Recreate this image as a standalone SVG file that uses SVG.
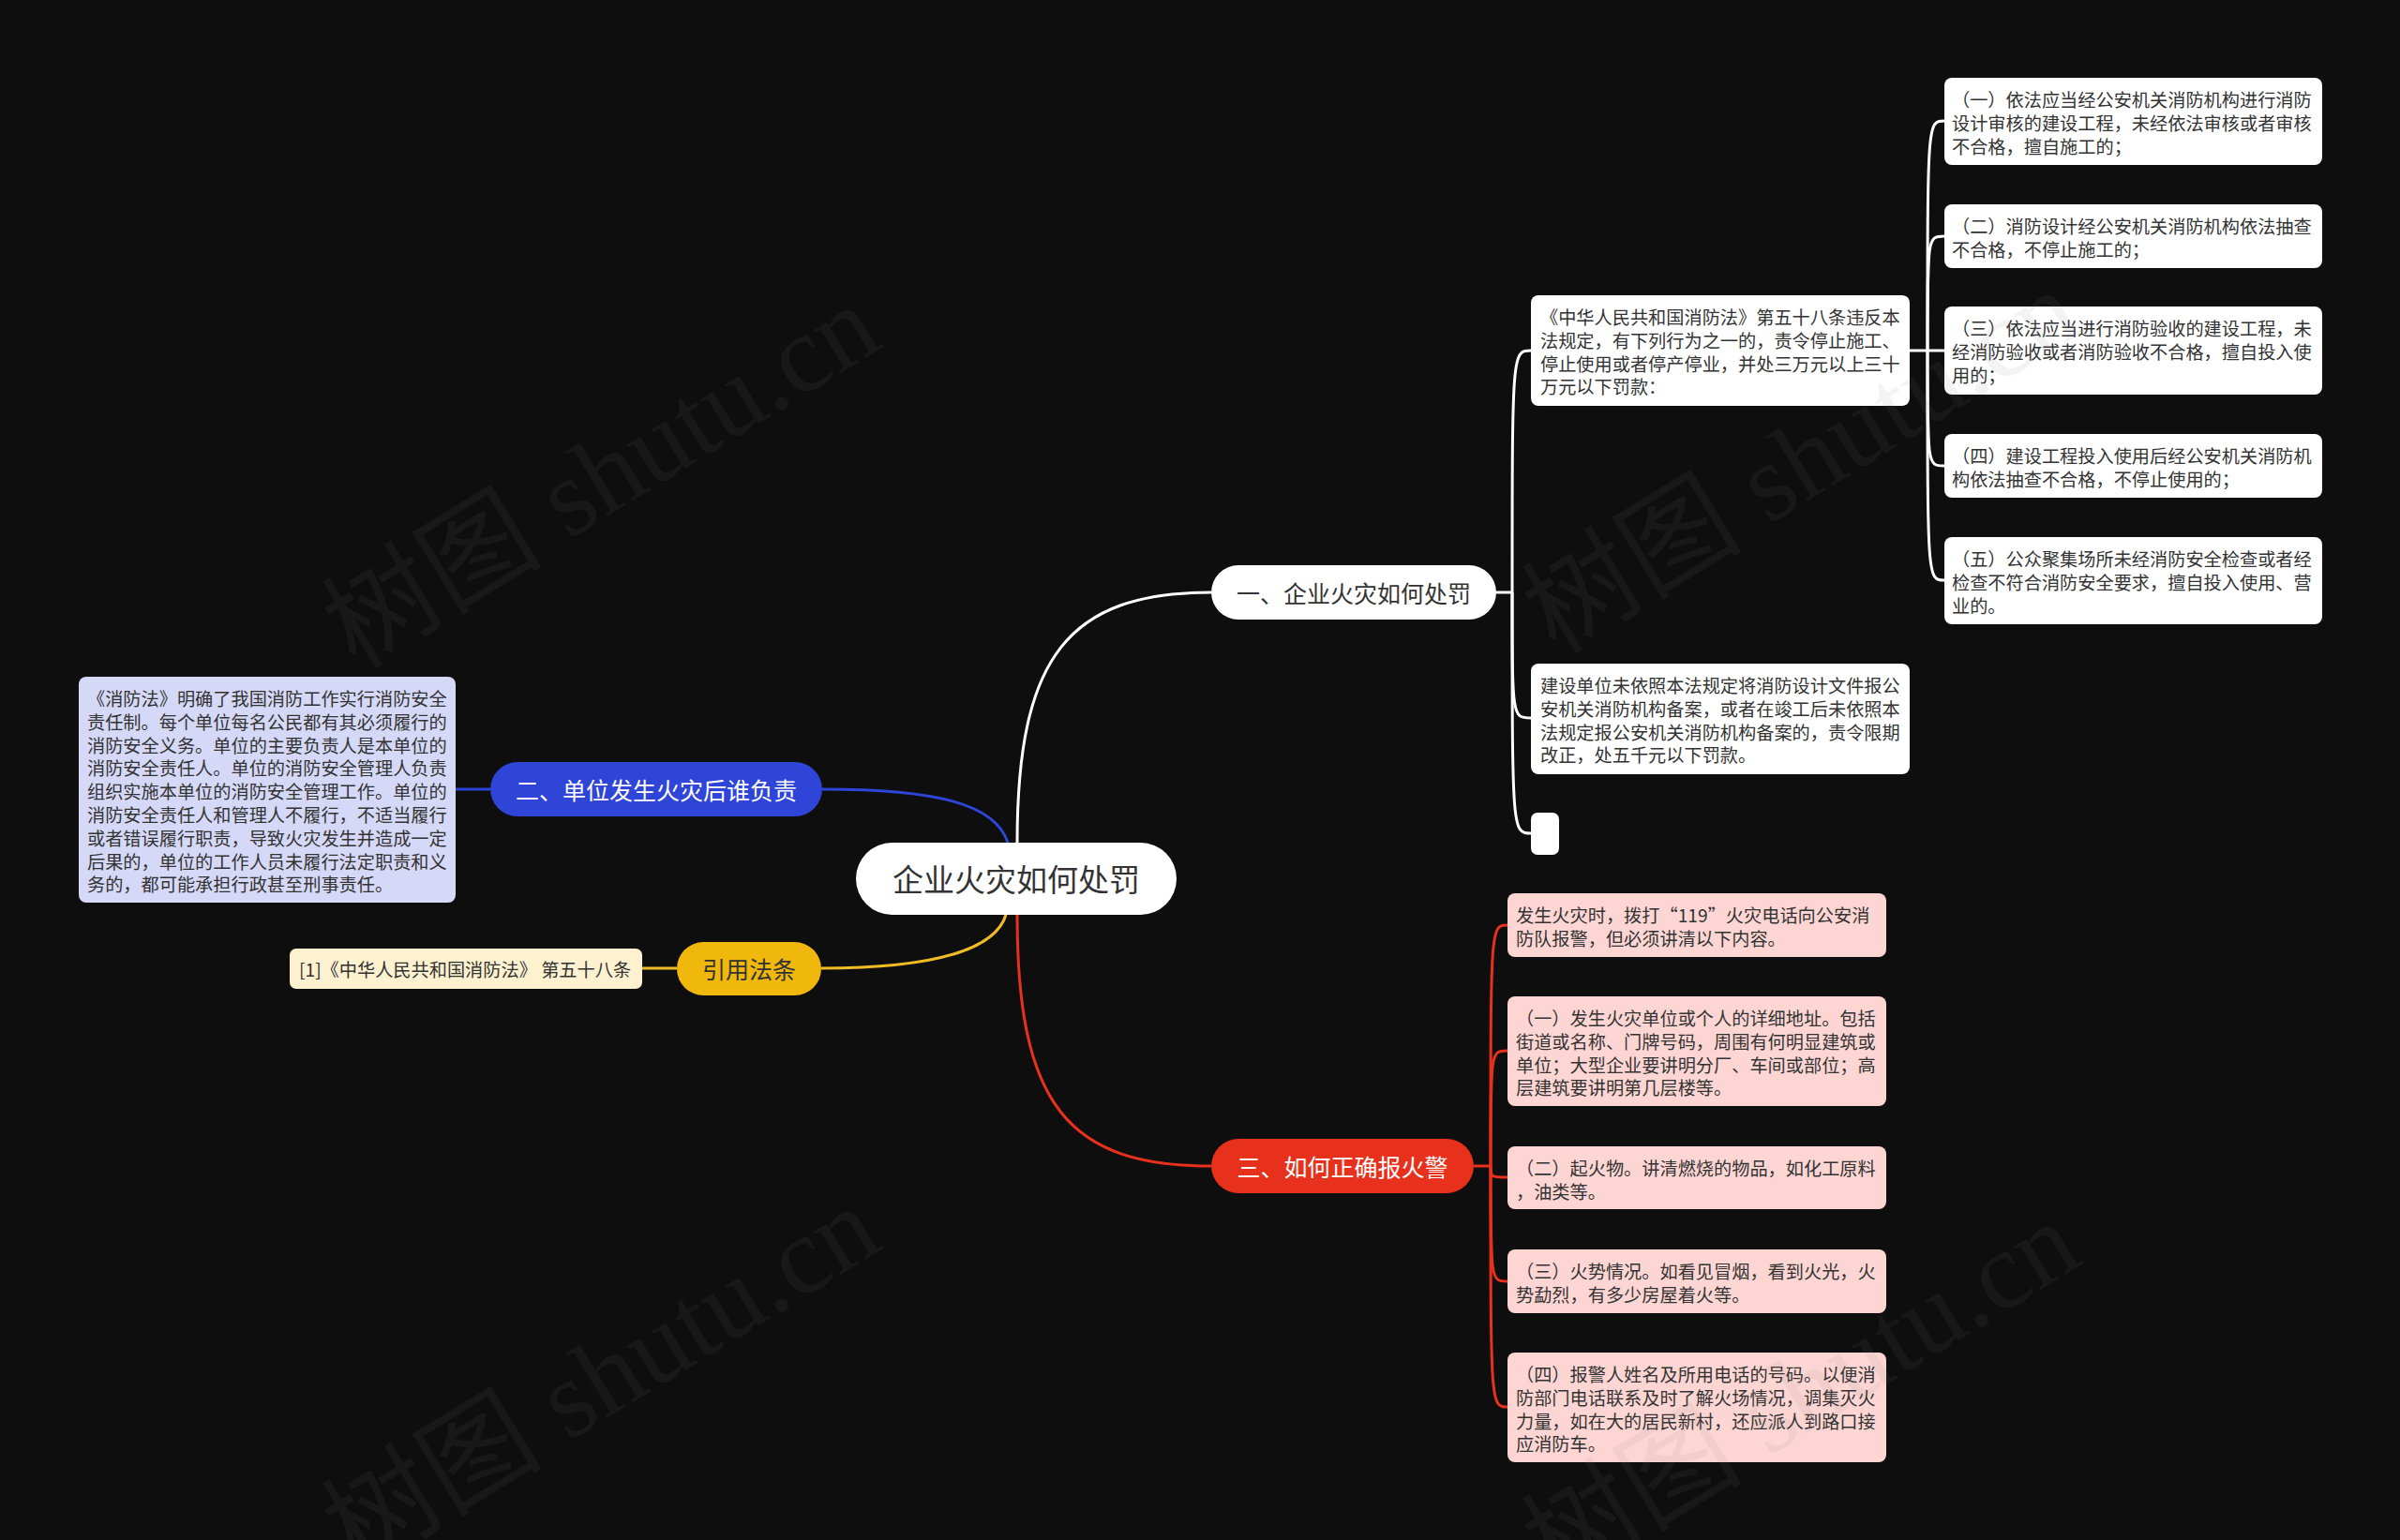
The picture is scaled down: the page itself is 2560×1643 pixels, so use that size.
<svg xmlns="http://www.w3.org/2000/svg" width="2560" height="1643" viewBox="0 0 2560 1643">
<style>
text{font-family:"Noto Sans CJK SC","Noto Sans",sans-serif;}
.t{font-size:19.2px;fill:#333333;dominant-baseline:central;}
.pill{font-size:25px;dominant-baseline:central;text-anchor:middle;}
.wbox{fill:#ffffff;}
.pbox{fill:#fdd6d3;}
.wl{fill:none;stroke:#ffffff;stroke-width:3;}
.rl{fill:none;stroke:#e8311d;stroke-width:3;}
.bl{fill:none;stroke:#2e45d8;stroke-width:3;}
.yl{fill:none;stroke:#f0bc25;stroke-width:3;}
.wm{font-family:"Liberation Serif","Noto Sans CJK SC",serif;font-size:118px;fill:#808080;opacity:0.09;}
</style>
<rect x="0" y="0" width="2560" height="1643" fill="#0e0e0e"/>

<g id="connectors">
  <path class="wl" d="M1085 899 C1085 700 1140 632 1292 632"/>
  <path class="bl" d="M877 842 C1000 842 1062 858 1075 899"/>
  <path class="yl" d="M876 1033 C1000 1033 1062 1012 1073 976"/>
  <path class="rl" d="M1085 976 C1085 1180 1140 1244 1292 1244"/>
  <path class="bl" d="M486 842 H523"/>
  <path class="yl" d="M685 1033 H722"/>
  <path class="wl" d="M1596 632 H1613"/>
  <path class="wl" d="M1613 632 C1613 374 1613 374 1633 374"/>
  <path class="wl" d="M1613 632 C1613 766 1613 766 1633 766"/>
  <path class="wl" d="M1613 632 C1613 889 1613 889 1633 889"/>
  <path class="wl" d="M2037 374 H2056"/>
  <path class="wl" d="M2056 374 C2056 129 2056 129 2074 129"/>
  <path class="wl" d="M2056 374 C2056 252 2056 252 2074 252"/>
  <path class="wl" d="M2056 374 H2074"/>
  <path class="wl" d="M2056 374 C2056 497 2056 497 2074 497"/>
  <path class="wl" d="M2056 374 C2056 619 2056 619 2074 619"/>
  <path class="rl" d="M1572 1244 H1590"/>
  <path class="rl" d="M1590 1244 C1590 987 1590 987 1608 987"/>
  <path class="rl" d="M1590 1244 C1590 1121 1590 1121 1608 1121"/>
  <path class="rl" d="M1590 1244 C1590 1256 1590 1256 1608 1256"/>
  <path class="rl" d="M1590 1244 C1590 1367 1590 1367 1608 1367"/>
  <path class="rl" d="M1590 1244 C1590 1501 1590 1501 1608 1501"/>
</g>

<g id="root">
  <rect x="913" y="899" width="342" height="77" rx="38.5" fill="#ffffff"/>
  <text x="1084" y="937" style="font-size:33px;fill:#333333;dominant-baseline:central;text-anchor:middle">企业火灾如何处罚</text>
</g>

<g id="branch1">
  <rect x="1292" y="603" width="304" height="58" rx="29" fill="#ffffff"/>
  <text class="pill" x="1444" y="632" fill="#333333">一、企业火灾如何处罚</text>
</g>

<g id="branch2">
  <rect x="523" y="813" width="354" height="58" rx="29" fill="#2e45d8"/>
  <text class="pill" x="700" y="842" fill="#ffffff">二、单位发生火灾后谁负责</text>
</g>

<g id="branch3">
  <rect x="1292" y="1215" width="280" height="58" rx="29" fill="#e8311d"/>
  <text class="pill" x="1432" y="1244" fill="#ffffff">三、如何正确报火警</text>
</g>

<g id="branch4">
  <rect x="722" y="1005" width="154" height="57" rx="28.5" fill="#f0b70c"/>
  <text class="pill" x="799" y="1033" fill="#333333">引用法条</text>
</g>

<g id="n-art58">
  <rect class="wbox" x="1633" y="315" width="404" height="118" rx="8"/>
  <text class="t"><tspan x="1643" y="338">《中华人民共和国消防法》第五十八条违反本</tspan><tspan x="1643" y="362.8">法规定，有下列行为之一的，责令停止施工、</tspan><tspan x="1643" y="387.6">停止使用或者停产停业，并处三万元以上三十</tspan><tspan x="1643" y="412.4">万元以下罚款：</tspan></text>
</g>

<g id="n-record">
  <rect class="wbox" x="1633" y="708" width="404" height="118" rx="8"/>
  <text class="t"><tspan x="1643" y="731">建设单位未依照本法规定将消防设计文件报公</tspan><tspan x="1643" y="755.8">安机关消防机构备案，或者在竣工后未依照本</tspan><tspan x="1643" y="780.6">法规定报公安机关消防机构备案的，责令限期</tspan><tspan x="1643" y="805.4">改正，处五千元以下罚款。</tspan></text>
</g>

<g id="n-empty">
  <rect class="wbox" x="1633" y="867" width="30" height="45" rx="7"/>
</g>

<g id="n-a1">
  <rect class="wbox" x="2074" y="83" width="403" height="93" rx="8"/>
  <text class="t"><tspan x="2082" y="106">（一）依法应当经公安机关消防机构进行消防</tspan><tspan x="2082" y="130.8">设计审核的建设工程，未经依法审核或者审核</tspan><tspan x="2082" y="155.6">不合格，擅自施工的；</tspan></text>
</g>
<g id="n-a2">
  <rect class="wbox" x="2074" y="218" width="403" height="68" rx="8"/>
  <text class="t"><tspan x="2082" y="241">（二）消防设计经公安机关消防机构依法抽查</tspan><tspan x="2082" y="265.8">不合格，不停止施工的；</tspan></text>
</g>
<g id="n-a3">
  <rect class="wbox" x="2074" y="327" width="403" height="94" rx="8"/>
  <text class="t"><tspan x="2082" y="350">（三）依法应当进行消防验收的建设工程，未</tspan><tspan x="2082" y="374.8">经消防验收或者消防验收不合格，擅自投入使</tspan><tspan x="2082" y="399.6">用的；</tspan></text>
</g>
<g id="n-a4">
  <rect class="wbox" x="2074" y="463" width="403" height="68" rx="8"/>
  <text class="t"><tspan x="2082" y="486">（四）建设工程投入使用后经公安机关消防机</tspan><tspan x="2082" y="510.8">构依法抽查不合格，不停止使用的；</tspan></text>
</g>
<g id="n-a5">
  <rect class="wbox" x="2074" y="573" width="403" height="93" rx="8"/>
  <text class="t"><tspan x="2082" y="596">（五）公众聚集场所未经消防安全检查或者经</tspan><tspan x="2082" y="620.8">检查不符合消防安全要求，擅自投入使用、营</tspan><tspan x="2082" y="645.6">业的。</tspan></text>
</g>

<g id="n-duty">
  <rect x="84" y="722" width="402" height="241" rx="8" fill="#d5d8f6"/>
  <text class="t"><tspan x="93" y="745">《消防法》明确了我国消防工作实行消防安全</tspan><tspan x="93" y="769.8">责任制。每个单位每名公民都有其必须履行的</tspan><tspan x="93" y="794.6">消防安全义务。单位的主要负责人是本单位的</tspan><tspan x="93" y="819.4">消防安全责任人。单位的消防安全管理人负责</tspan><tspan x="93" y="844.2">组织实施本单位的消防安全管理工作。单位的</tspan><tspan x="93" y="869">消防安全责任人和管理人不履行，不适当履行</tspan><tspan x="93" y="893.8">或者错误履行职责，导致火灾发生并造成一定</tspan><tspan x="93" y="918.6">后果的，单位的工作人员未履行法定职责和义</tspan><tspan x="93" y="943.4">务的，都可能承担行政甚至刑事责任。</tspan></text>
</g>

<g id="n-ref">
  <rect x="309" y="1012" width="376" height="43" rx="7" fill="#fdf1cf"/>
  <text class="t" x="319" y="1033.5">[1]《中华人民共和国消防法》 第五十八条</text>
</g>

<g id="n-r1">
  <rect class="pbox" x="1608" y="953" width="404" height="68" rx="8"/>
  <text class="t"><tspan x="1617" y="976">发生火灾时，拨打“119”火灾电话向公安消</tspan><tspan x="1617" y="1000.8">防队报警，但必须讲清以下内容。</tspan></text>
</g>
<g id="n-r2">
  <rect class="pbox" x="1608" y="1063" width="404" height="117" rx="8"/>
  <text class="t"><tspan x="1617" y="1086">（一）发生火灾单位或个人的详细地址。包括</tspan><tspan x="1617" y="1110.8">街道或名称、门牌号码，周围有何明显建筑或</tspan><tspan x="1617" y="1135.6">单位；大型企业要讲明分厂、车间或部位；高</tspan><tspan x="1617" y="1160.4">层建筑要讲明第几层楼等。</tspan></text>
</g>
<g id="n-r3">
  <rect class="pbox" x="1608" y="1223" width="404" height="67" rx="8"/>
  <text class="t"><tspan x="1617" y="1246">（二）起火物。讲清燃烧的物品，如化工原料</tspan><tspan x="1617" y="1270.8">，油类等。</tspan></text>
</g>
<g id="n-r4">
  <rect class="pbox" x="1608" y="1333" width="404" height="68" rx="8"/>
  <text class="t"><tspan x="1617" y="1356">（三）火势情况。如看见冒烟，看到火光，火</tspan><tspan x="1617" y="1380.8">势勐烈，有多少房屋着火等。</tspan></text>
</g>
<g id="n-r5">
  <rect class="pbox" x="1608" y="1443" width="404" height="117" rx="8"/>
  <text class="t"><tspan x="1617" y="1466">（四）报警人姓名及所用电话的号码。以便消</tspan><tspan x="1617" y="1490.8">防部门电话联系及时了解火场情况，调集灭火</tspan><tspan x="1617" y="1515.6">力量，如在大的居民新村，还应派人到路口接</tspan><tspan x="1617" y="1540.4">应消防车。</tspan></text>
</g>

<g id="watermark">
  <text class="wm" text-anchor="middle" transform="translate(662 542) rotate(-31.5)">树图 shutu.cn</text>
  <text class="wm" text-anchor="middle" transform="translate(662 1504) rotate(-31.5)">树图 shutu.cn</text>
  <text class="wm" text-anchor="middle" transform="translate(1942 526) rotate(-31.5)">树图 shutu.cn</text>
  <text class="wm" text-anchor="middle" transform="translate(1942 1520) rotate(-31.5)">树图 shutu.cn</text>
</g>
</svg>
